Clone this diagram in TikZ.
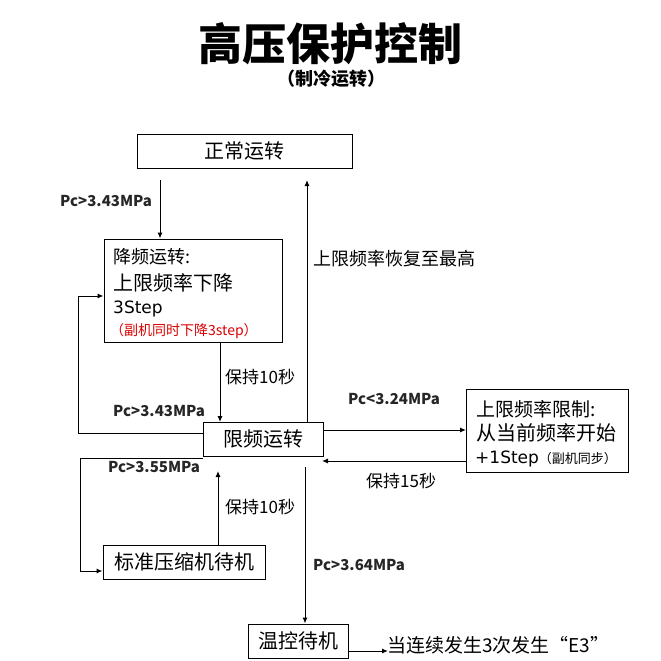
\documentclass[tikz,border=0pt]{standalone}
\usepackage{fontspec}
\newfontfamily\cjk{Noto Sans CJK SC}
\newfontfamily\lat{DejaVu Sans}
\setmainfont{Noto Sans CJK SC}
\usetikzlibrary{arrows.meta}
\tikzset{
  box/.style={draw=black, line width=1pt, inner sep=0pt, fill=white},
  arr/.style={line width=1pt, -{Latex[length=6pt,width=5pt]}},
  ln/.style={line width=1pt},
  lbl/.style={inner sep=0pt, font=\cjk\bfseries\fontsize{15}{17}\selectfont, text=black!85},
  cn/.style={inner sep=0pt, font=\cjk\fontsize{17}{20}\selectfont}
}
\begin{document}
\begin{tikzpicture}[x=1pt,y=-1pt]
\useasboundingbox (0,0) rectangle (661,661);
% title
\node[inner sep=0pt, font=\cjk\bfseries\fontsize{44}{48}\selectfont] (title) at (330,44) {高压保护控制};
\node[inner sep=0pt, font=\cjk\bfseries\fontsize{18}{20}\selectfont] (sub) at (331,79) {（制冷运转）};
% boxes
\node[box, minimum width=215pt, minimum height=34pt] (normal) at (244.5,151) {};
\node[cn, font=\cjk\fontsize{20}{22}\selectfont] (normalt) at (244.5,151) {正常运转};
\node[box, minimum width=178pt, minimum height=103pt] (down) at (193,290.5) {};
\node[cn, anchor=west, font=\cjk\fontsize{18}{20}\selectfont] (d1) at (113,257) {降频运转:};
\node[cn, anchor=west, font=\cjk\fontsize{20}{22}\selectfont] (d2) at (113,283) {上限频率下降};
\node[cn, anchor=west, font=\lat\fontsize{17}{19}\selectfont] (d3) at (113,309) {3Step};
\node[cn, anchor=west, text=red!85!black, font=\cjk\fontsize{14}{16}\selectfont] (d4) at (110,331) {（副机同时下降3step）};
\node[box, minimum width=120pt, minimum height=34pt] (lim) at (263,439) {};
\node[cn, font=\cjk\fontsize{20}{22}\selectfont] (limt) at (263,439) {限频运转};
\node[box, minimum width=162pt, minimum height=83pt] (up) at (547,430.5) {};
\node[cn, anchor=west, font=\cjk\fontsize{19}{21}\selectfont] (u1) at (476,409) {上限频率限制:};
\node[cn, anchor=west, font=\cjk\fontsize{20}{22}\selectfont] (u2) at (476,433) {从当前频率开始};
\node[cn, anchor=west, font=\lat\fontsize{17}{19}\selectfont] (u3) at (475,459) {+1Step\cjk\fontsize{13}{15}\selectfont（副机同步）};
\node[box, minimum width=162pt, minimum height=34pt] (std) at (184,562) {};
\node[cn, font=\cjk\fontsize{20}{22}\selectfont] (stdt) at (184,562) {标准压缩机待机};
\node[box, minimum width=100pt, minimum height=34pt] (temp) at (298,641) {};
\node[cn, font=\cjk\fontsize{20}{22}\selectfont] (tempt) at (298,641) {温控待机};
\node[cn, anchor=west, font=\cjk\fontsize{19}{21}\selectfont] (note) at (387,645) {当连续发生3次发生“E3”};
% coordinates
\coordinate (a1) at (160,180);
\coordinate (l1) at (78,433);
\coordinate (l2) at (78,296);
\coordinate (l3) at (80,458);
\coordinate (l4) at (80,571);
\coordinate (r1) at (307,422);
\coordinate (r2) at (307,180);
\coordinate (s1) at (218,545);
\coordinate (s2) at (218,471);
\coordinate (t1) at (305,467);
\coordinate (t2) at (348,651);
\coordinate (t3) at (388,651);
\coordinate (h1) at (220,342);
\coordinate (h2) at (220,422);
\coordinate (p1) at (323,430);
\coordinate (p2) at (466,430);
\coordinate (q1) at (466,461);
\coordinate (q2) at (322,461);
% connectors
\draw[arr] (a1) -- (a1 |- down.north);
\draw[arr] (h1) -- (h2);
\draw[arr] (lim.west |- l1) -- (l1) -- (l2) -- (down.west |- l2);
\draw[arr] (r1) -- (r2);
\draw[arr] (p1) -- (p2);
\draw[arr] (q1) -- (q2);
\draw[arr] (lim.west |- l3) -- (l3) -- (l4) -- (std.west |- l4);
\draw[arr] (s1) -- (s2);
\draw[arr] (t1) -- (t1 |- temp.north);
\draw[arr] (t2) -- (t3);
% labels
\node[lbl, anchor=west] (la) at (60,201) {Pc>3.43MPa};
\node[cn, anchor=west, font=\cjk\fontsize{17}{19}\selectfont] (lb) at (225,377) {保持10秒};
\node[lbl, anchor=west] (lc) at (113,411) {Pc>3.43MPa};
\node[lbl, anchor=west] (ld) at (348,399) {Pc<3.24MPa};
\node[cn, anchor=west, font=\cjk\fontsize{17}{19}\selectfont] (le) at (366,481) {保持15秒};
\node[cn, anchor=west, font=\cjk\fontsize{18}{20}\selectfont] (lf) at (313,259) {上限频率恢复至最高};
\node[lbl, anchor=west] (lg) at (108,467) {Pc>3.55MPa};
\node[cn, anchor=west, font=\cjk\fontsize{17}{19}\selectfont] (lh) at (225,507) {保持10秒};
\node[lbl, anchor=west] (li) at (313,565) {Pc>3.64MPa};
\end{tikzpicture}
\end{document}
